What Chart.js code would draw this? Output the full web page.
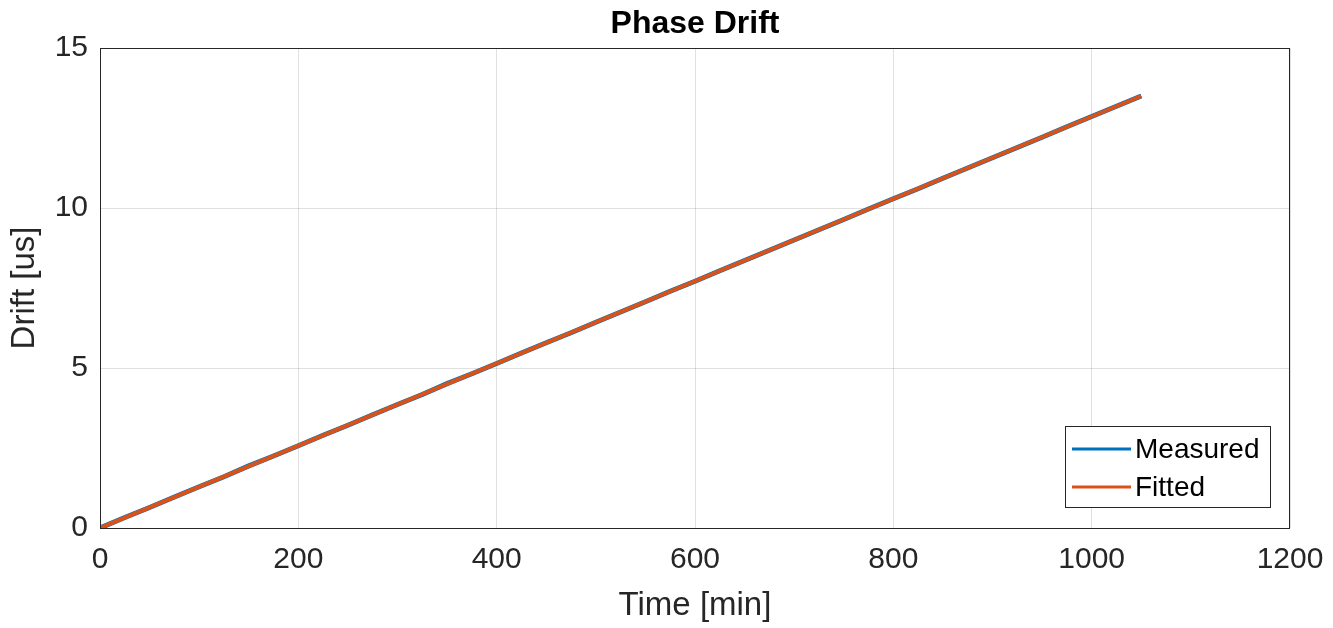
<!DOCTYPE html>
<html>
<head>
<meta charset="utf-8">
<script src="https://cdn.jsdelivr.net/npm/chart.js@4/dist/chart.umd.min.js"></script>
<style>
  html, body { margin: 0; padding: 0; background: #fff; }
  #wrap { width: 1333px; height: 628px; }
</style>
</head>
<body>
<div id="wrap"><canvas id="c"></canvas></div>
<script>
// time [min] and measured drift [us]
const timeMin = [0, 25, 50, 75, 100, 125, 150, 175, 200, 225, 250, 275, 300, 325, 350,
  375, 400, 425, 450, 475, 500, 525, 550, 575, 600, 625, 650, 675, 700, 725, 750,
  775, 800, 825, 850, 875, 900, 925, 950, 975, 1000, 1025, 1050];
const measured = [0.00, 0.33, 0.64, 0.97, 1.29, 1.60, 1.94, 2.25, 2.57, 2.90, 3.21,
  3.54, 3.86, 4.17, 4.51, 4.82, 5.14, 5.47, 5.79, 6.10, 6.43, 6.75, 7.07, 7.40,
  7.71, 8.04, 8.36, 8.68, 9.00, 9.32, 9.64, 9.97, 10.29, 10.60, 10.93, 11.25,
  11.57, 11.89, 12.21, 12.54, 12.86, 13.18, 13.50];
const fitTime = [0, 1050];
const fitted = [0.00, 13.50];
const xTicks = [0, 200, 400, 600, 800, 1000, 1200];
const yTicks = [0, 5, 10, 15];

const FONT = "'Liberation Sans', Arial, sans-serif";
const TXT = '#262626';

// box around the axes + MATLAB style legend in the lower right
const matlabBox = {
  id: 'matlabBox',
  afterDraw(chart) {
    const {ctx, chartArea: a} = chart;
    ctx.save();
    ctx.strokeStyle = '#262626';
    ctx.lineWidth = 1;
    ctx.strokeRect(a.left + 0.5, a.top + 0.5, a.right - a.left - 1, a.bottom - a.top);

    const bx = 1065, by = 426, bw = 205, bh = 81;
    ctx.fillStyle = '#fff';
    ctx.fillRect(bx, by, bw, bh);
    ctx.strokeStyle = '#262626';
    ctx.strokeRect(bx + 0.5, by + 0.5, bw, bh);
    chart.data.datasets.forEach((ds, i) => {
      const y = by + 23 + i * 38;
      ctx.strokeStyle = ds.borderColor;
      ctx.lineWidth = 3;
      ctx.beginPath();
      ctx.moveTo(bx + 7, y);
      ctx.lineTo(bx + 66, y);
      ctx.stroke();
      ctx.fillStyle = '#000';
      ctx.font = '28px ' + FONT;
      ctx.textBaseline = 'middle';
      ctx.textAlign = 'left';
      ctx.fillText(ds.label, bx + 70, y + 1);
    });
    ctx.restore();
  }
};

new Chart(document.getElementById('c'), {
  type: 'scatter',
  data: {
    datasets: [{
      label: 'Measured',
      data: timeMin.map((t, i) => ({x: t, y: measured[i]})),
      showLine: true,
      borderColor: '#0072BD',
      borderWidth: 5,
      pointRadius: 0,
      order: 2
    }, {
      label: 'Fitted',
      data: fitTime.map((t, i) => ({x: t, y: fitted[i]})),
      showLine: true,
      borderColor: '#D95319',
      borderWidth: 4,
      pointRadius: 0,
      order: 1
    }]
  },
  options: {
    animation: false,
    responsive: true,
    maintainAspectRatio: false,
    layout: {padding: {left: 0, right: 43, top: 0, bottom: 0}},
    scales: {
      x: {
        type: 'linear',
        min: 0, max: 1200,
        afterBuildTicks: (s) => { s.ticks = xTicks.map(v => ({value: v})); },
        afterFit: (s) => { s.height = 100; s.paddingRight = 0; s.paddingLeft = 0; },
        grid: {color: 'rgba(0,0,0,0.12)', tickLength: 0, drawTicks: false},
        border: {display: false},
        ticks: {color: TXT, font: {family: FONT, size: 30}, padding: 14,
          maxRotation: 0, callback: (v) => String(v)},
        title: {display: true, text: 'Time [min]', color: TXT,
          font: {family: FONT, size: 33}, padding: {top: 2, bottom: 2}}
      },
      y: {
        type: 'linear',
        min: 0, max: 15,
        afterBuildTicks: (s) => { s.ticks = yTicks.map(v => ({value: v})); },
        afterFit: (s) => { s.width = 100; },
        grid: {color: 'rgba(0,0,0,0.12)', tickLength: 0, drawTicks: false},
        border: {display: false},
        ticks: {color: TXT, font: {family: FONT, size: 30}, padding: 12,
          callback: (v) => String(v)},
        title: {display: true, text: 'Drift [us]', color: TXT,
          font: {family: FONT, size: 33}, padding: {top: 5, bottom: 5}}
      }
    },
    plugins: {
      legend: {display: false},
      tooltip: {enabled: false},
      title: {
        display: true,
        fullSize: false,
        text: 'Phase Drift',
        color: '#000',
        font: {family: FONT, size: 32, weight: 'bold'},
        padding: {top: 5, bottom: 4.6}
      }
    }
  },
  plugins: [matlabBox]
});
</script>
</body>
</html>
